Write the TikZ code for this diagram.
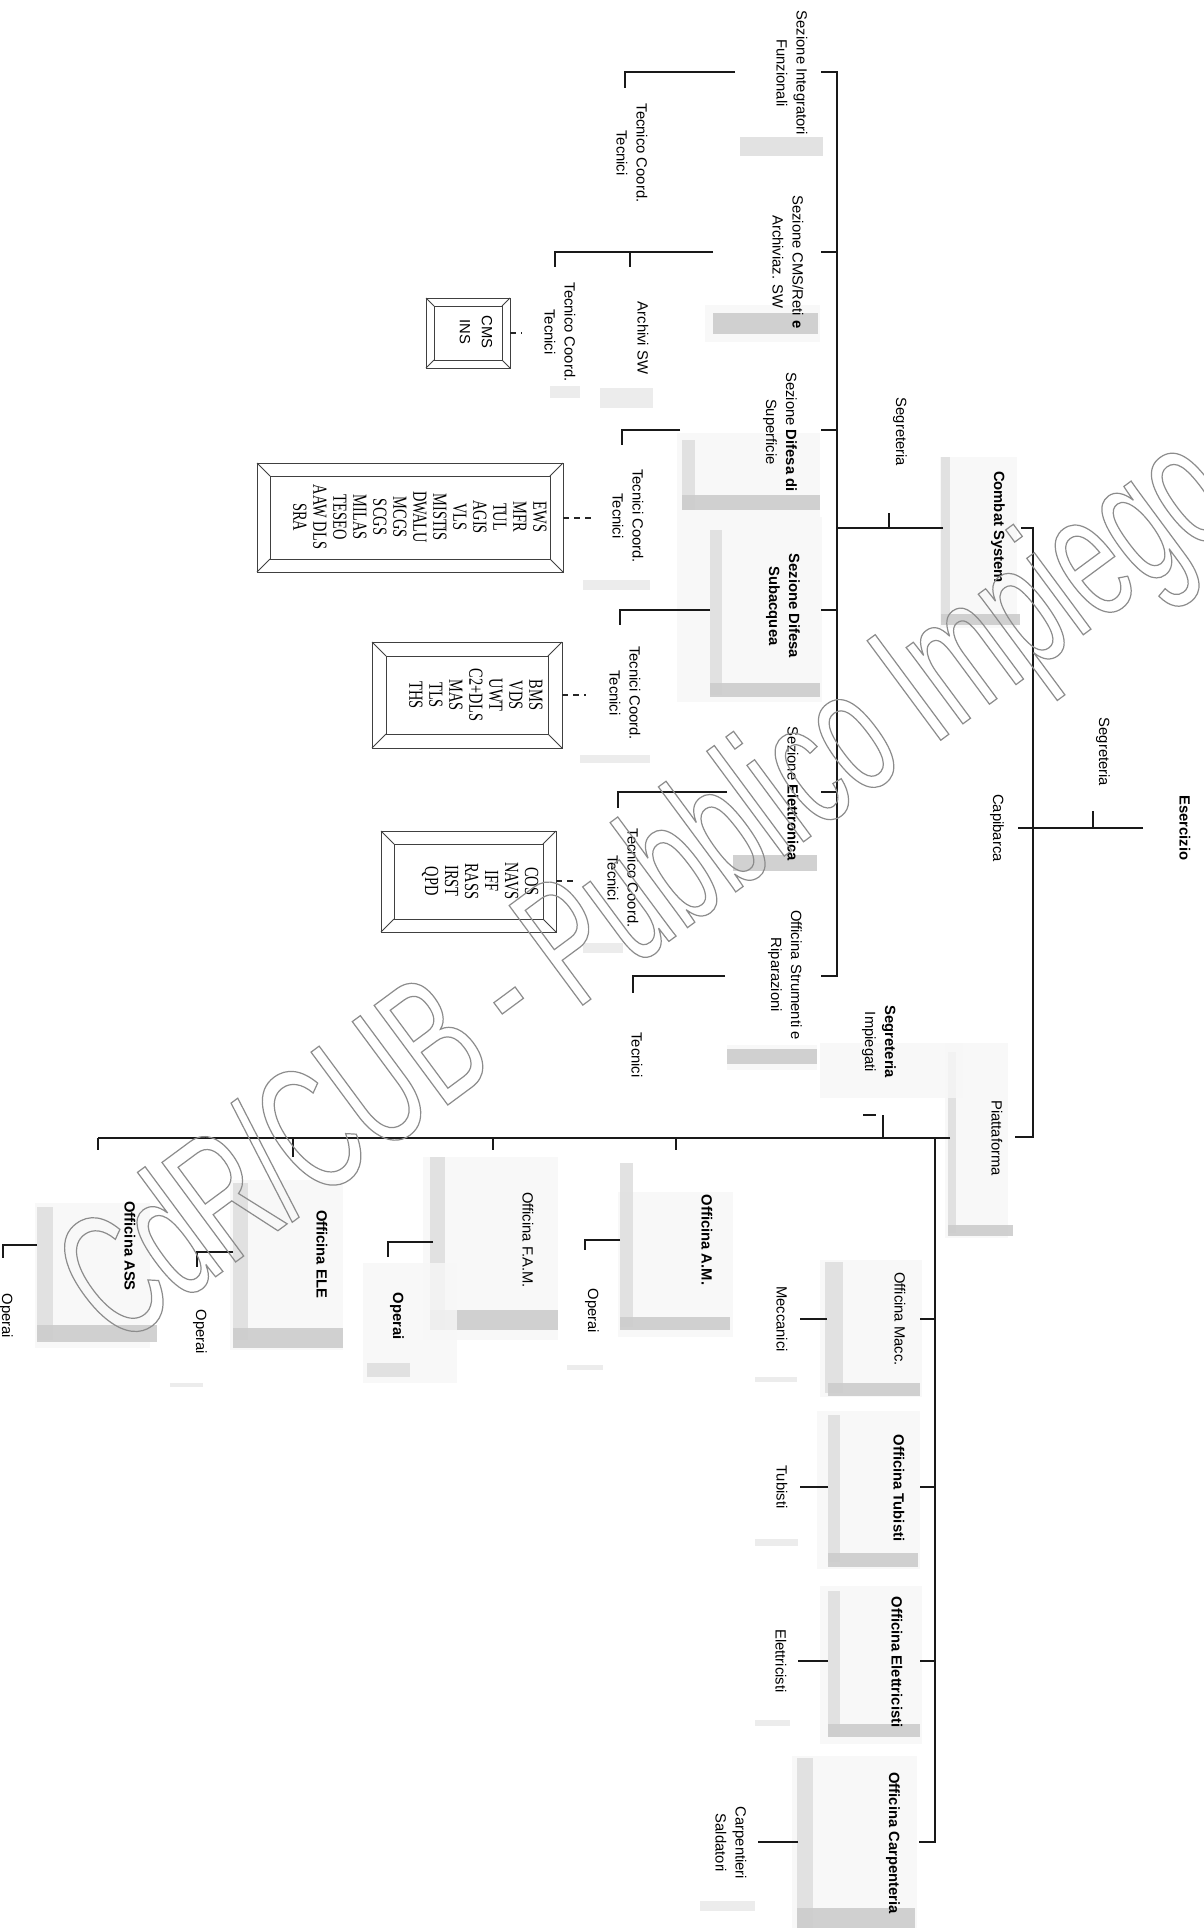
\documentclass[tikz,border=0pt]{standalone}
\usepackage{fontspec}
\setmainfont{Liberation Sans}
\newfontfamily\lstfont{Liberation Serif}[FakeStretch=0.72]
\newfontfamily\wmfont{Liberation Sans}[FakeStretch=0.6]
\newcommand\bevbox[5]{%
  \draw[bevline] (#1,#2) rectangle (#3,#4);
  \draw[bevline] ({#1+#5},{#2+#5}) rectangle ({#3-#5},{#4-#5});
  \draw[bevline] (#1,#2) -- ({#1+#5},{#2+#5}) (#3,#2) -- ({#3-#5},{#2+#5})
                 (#1,#4) -- ({#1+#5},{#4-#5}) (#3,#4) -- ({#3-#5},{#4-#5});
}
\newcommand\outlinetext[1]{\special{pdf:literal direct 1 Tr 0.6 w 0.55 G}#1\special{pdf:literal direct 0 Tr}}
\begin{document}
\begin{tikzpicture}[x=0.5pt,y=-0.5pt,
  every node/.style={inner sep=0pt, outer sep=0pt},
  conn/.style={line width=0.8pt, black!90},
  dconn/.style={line width=0.8pt, black!85, dash pattern=on 3pt off 2.5pt},
  lbl/.style={rotate=-90, align=center, font=\fontsize{7.4}{10}\selectfont},
  blbl/.style={rotate=-90, align=center, font=\fontsize{7.4}{10}\selectfont\bfseries},
  lst/.style={rotate=-90, align=center, font=\lstfont\fontsize{10}{10}\selectfont},
  bevline/.style={line width=0.5pt, black!75},
  boxfill/.style={fill=gray!6, fill opacity=0.8},
  darkstrip/.style={fill=gray!40, fill opacity=0.9},
  sidestrip/.style={fill=gray!25, fill opacity=0.9},
  faintstrip/.style={fill=gray!15},
  wm/.style={rotate=36.5, font=\wmfont\fontsize{90}{90}\selectfont}
]
\fill[white] (0,0) rectangle (1204,1928);
\useasboundingbox (0,0) rectangle (1204,1928);

% ---------- shaded boxes ----------
% Combat System
\fill[boxfill] (940,457) rectangle (1017,628);
\fill[sidestrip] (941,457) rectangle (950,622);
\fill[darkstrip] (941,614) rectangle (1020,625);
% Sezione Integratori
\fill[sidestrip] (740,137) rectangle (823,156);
% Sezione CMS
\fill[boxfill] (705,305) rectangle (820,342);
\fill[darkstrip] (713,313) rectangle (818,334);
% Difesa di Superficie
\fill[boxfill] (677,433) rectangle (820,517);
\fill[sidestrip] (682,440) rectangle (695,510);
\fill[darkstrip] (682,495) rectangle (820,510);
% Difesa Subacquea
\fill[boxfill] (677,517) rectangle (822,702);
\fill[sidestrip] (710,530) rectangle (722,695);
\fill[darkstrip] (710,683) rectangle (820,697);
% Elettronica
\fill[darkstrip] (733,855) rectangle (817,871);
% Strumenti
\fill[boxfill] (727,1045) rectangle (817,1070);
\fill[darkstrip] (727,1049) rectangle (817,1064);
% Piattaforma
\fill[boxfill] (945,1043) rectangle (1008,1238);
\fill[sidestrip] (948,1052) rectangle (956,1233);
\fill[darkstrip] (948,1225) rectangle (1013,1236);
% Segreteria Impiegati
\fill[boxfill] (820,1043) rectangle (963,1098);
% Officina Macc.
\fill[boxfill] (820,1260) rectangle (922,1397);
\fill[sidestrip] (825,1262) rectangle (843,1393);
\fill[darkstrip] (828,1383) rectangle (920,1396);
% Officina Tubisti
\fill[boxfill] (817,1411) rectangle (920,1569);
\fill[sidestrip] (828,1415) rectangle (840,1562);
\fill[darkstrip] (828,1553) rectangle (918,1567);
% Officina Elettricisti
\fill[boxfill] (820,1586) rectangle (922,1744);
\fill[sidestrip] (828,1591) rectangle (840,1737);
\fill[darkstrip] (828,1724) rectangle (920,1737);
% Officina Carpenteria
\fill[boxfill] (792,1756) rectangle (917,1928);
\fill[sidestrip] (797,1758) rectangle (813,1928);
\fill[darkstrip] (797,1908) rectangle (915,1928);
% Officina A.M.
\fill[boxfill] (618,1192) rectangle (733,1337);
\fill[sidestrip] (620,1163) rectangle (633,1327);
\fill[darkstrip] (620,1317) rectangle (730,1330);
% Officina F.A.M.
\fill[boxfill] (423,1157) rectangle (558,1340);
\fill[sidestrip] (430,1157) rectangle (445,1330);
\fill[darkstrip] (430,1310) rectangle (558,1330);
% Officina ELE
\fill[boxfill] (230,1180) rectangle (343,1350);
\fill[sidestrip] (233,1183) rectangle (248,1340);
\fill[darkstrip] (233,1328) rectangle (343,1348);
% Officina ASS
\fill[boxfill] (35,1203) rectangle (150,1348);
\fill[sidestrip] (37,1207) rectangle (53,1340);
\fill[darkstrip] (37,1325) rectangle (157,1342);
% Operai (F.A.M.)
\fill[boxfill] (363,1263) rectangle (457,1383);
\fill[sidestrip] (367,1363) rectangle (410,1377);
% faint strips under labels
\fill[faintstrip] (600,388) rectangle (653,408);
\fill[faintstrip] (550,386) rectangle (580,398);
\fill[faintstrip] (583,580) rectangle (650,590);
\fill[faintstrip] (580,755) rectangle (650,763);
\fill[faintstrip] (583,943) rectangle (623,953);
\fill[faintstrip] (755,1377) rectangle (797,1382);
\fill[faintstrip] (755,1539) rectangle (798,1546);
\fill[faintstrip] (755,1720) rectangle (790,1726);
\fill[faintstrip] (700,1901) rectangle (755,1911);
\fill[faintstrip] (567,1365) rectangle (603,1370);
\fill[faintstrip] (170,1383) rectangle (203,1387);

% ---------- list boxes ----------
\bevbox{426}{298}{510}{368}{8}
\bevbox{257}{463}{563}{572}{13}
\bevbox{372}{642}{562}{748}{14}
\bevbox{381}{831}{556}{932}{13}

% ---------- labels ----------
\node[blbl] (eserc) at (1185,828) {Esercizio};
\node[lbl] (capib) at (997,828) {Capibarca};
\node[lbl] (segr1) at (1103,752) {Segreteria};
\node[blbl] (combat) at (998,527) {Combat System};
\node[lbl] (segr2) at (900,432) {Segreteria};
\node[lbl] (piatt) at (997,1138) {Piattaforma};
\node[lbl] (segrimp) at (879,1042) {\textbf{Segreteria}\\Impiegati};

\node[lbl] (sif) at (792,73) {Sezione Integratori\\Funzionali};
\node[lbl] (scms) at (788,262) {Sezione CMS/Reti \textbf{e}\\Archiviaz. SW};
\node[lbl] (sds) at (780,432) {Sezione \textbf{Difesa di}\\Superficie};
\node[blbl] (sdsub) at (783,606) {Sezione Difesa\\Subacquea};
\node[lbl] (sel) at (793,794) {Sezione \textbf{Elettronica}};
\node[lbl] (osr) at (785,975) {Officina Strumenti e\\Riparazioni};

\node[lbl] (t1) at (632,153) {Tecnico Coord.\\Tecnici};
\node[lbl] (asw) at (643,338) {Archivi SW};
\node[lbl] (t2) at (560,332) {Tecnico Coord.\\Tecnici};
\node[lbl] (t3) at (628,516) {Tecnici Coord.\\Tecnici};
\node[lbl] (t4) at (625,693) {Tecnici Coord.\\Tecnici};
\node[lbl] (t5) at (623,878) {Tecnico Coord.\\Tecnici};
\node[lbl] (t6) at (637,1055) {Tecnici};

\node[lbl, font=\fontsize{7.4}{11}\selectfont] (l1) at (476,332) {CMS\\INS};
\node[lst] (l2) at (420,517) {EWS\\MFR\\TUL\\AGIS\\VLS\\MISTIS\\DWALU\\MCGS\\SCGS\\MILAS\\TESEO\\AAW DLS\\SRA};
\node[lst] (l3) at (476,695) {BMS\\VDS\\UWT\\C2+DLS\\MAS\\TLS\\THS};
\node[lst] (l4) at (480,881) {COS\\NAVS\\IFF\\RASS\\IRST\\QPD};

\node[blbl] (oam) at (707,1240) {Officina A.M.};
\node[lbl] (ofam) at (528,1240) {Officina F.A.M.};
\node[blbl] (oele) at (322,1254) {Officina ELE};
\node[blbl] (oass) at (130,1246) {Officina ASS};
\node[lbl] (op1) at (592,1311) {Operai};
\node[blbl] (op2) at (397,1316) {Operai};
\node[lbl] (op3) at (200,1332) {Operai};
\node[lbl] (op4) at (6,1316) {Operai};
\node[lbl] (omecc) at (900,1319) {Officina Macc.};
\node[blbl] (otub) at (899,1488) {Officina Tubisti};
\node[blbl] (oelt) at (897,1662) {Officina Elettricisti};
\node[blbl] (ocarp) at (893,1843) {Officina Carpenteria};
\node[lbl] (mecc) at (782,1319) {Meccanici};
\node[lbl] (tubi) at (782,1487) {Tubisti};
\node[lbl] (elet) at (781,1661) {Elettricisti};
\node[lbl] (carp) at (731,1843) {Carpentieri\\Saldatori};

% ---------- connector joints ----------
\coordinate (eA) at (1143,828);  \coordinate (eB) at (1018,828);
\coordinate (sg1) at (1093,811); \coordinate (sg1b) at (1093,828);
\coordinate (csA) at (1021,528); \coordinate (csB) at (1033,528);
\coordinate (csC) at (1033,1137); \coordinate (csD) at (1015,1137);
\coordinate (cbA) at (943,528);  \coordinate (cbB) at (837,528);
\coordinate (sg2) at (889,513);  \coordinate (sg2b) at (889,528);
\coordinate (spT) at (837,72);   \coordinate (spE) at (837,976);

% top level
\draw[conn] (eA) -- (eB);
\draw[conn] (sg1) -- (sg1b);
\draw[conn] (csA) -- (csB) -- (csC) -- (csD);
\draw[conn] (cbA) -- (cbB);
\draw[conn] (sg2) -- (sg2b);

% Combat System sections spine
\draw[conn] (821,72) -- (spT) -- (spE) -- (821,976);
\foreach \yy in {252,430,610,792} \draw[conn] (837,\yy) -- (821,\yy);

% section children
\draw[conn] (735,72) -- (625,72) -- (625,88);
\draw[conn] (713,252) -- (555,252) -- (555,267);
\draw[conn] (630,252) -- (630,267);
\draw[conn] (680,430) -- (622,430) -- (622,445);
\draw[conn] (710,610) -- (620,610) -- (620,625);
\draw[conn] (727,792) -- (618,792) -- (618,808);
\draw[conn] (725,976) -- (633,976) -- (633,993);

% dashed links to lists
\draw[dconn] (510,333) -- (522,333);
\draw[dconn] (563,518) -- (594,518);
\draw[dconn] (562,695) -- (586,695);
\draw[dconn] (556,881) -- (578,881);

% Piattaforma
\coordinate (pA) at (950,1138); \coordinate (pB) at (98,1138);
\draw[conn] (pA) -- (pB);
\draw[conn] (883,1115) -- (883,1138);
\draw[conn] (863,1115) -- (876,1115);
\draw[conn] (935,1138) -- (935,1842) -- (919,1842);
\foreach \yy in {1319,1487,1661} \draw[conn] (935,\yy) -- (920,\yy);
\draw[conn] (676,1138) -- (676,1150);
\draw[conn] (493,1138) -- (493,1150);
\draw[conn] (293,1138) -- (293,1157);
\draw[conn] (98,1138) -- (98,1150);

% officine children
\draw[conn] (620,1240) -- (585,1240) -- (585,1250);
\draw[conn] (433,1242) -- (388,1242) -- (388,1257);
\draw[conn] (233,1252) -- (197,1252) -- (197,1267);
\draw[conn] (37,1245) -- (3,1245) -- (3,1258);
\draw[conn] (827,1319) -- (800,1319);
\draw[conn] (828,1487) -- (800,1487);
\draw[conn] (828,1661) -- (798,1661);
\draw[conn] (798,1842) -- (758,1842);

% ---------- watermark (outlined, on top) ----------
\node[wm] (wmark) at (652,896) {\outlinetext{CdR/CUB - Pubblico Impiego}};
\end{tikzpicture}
\end{document}
